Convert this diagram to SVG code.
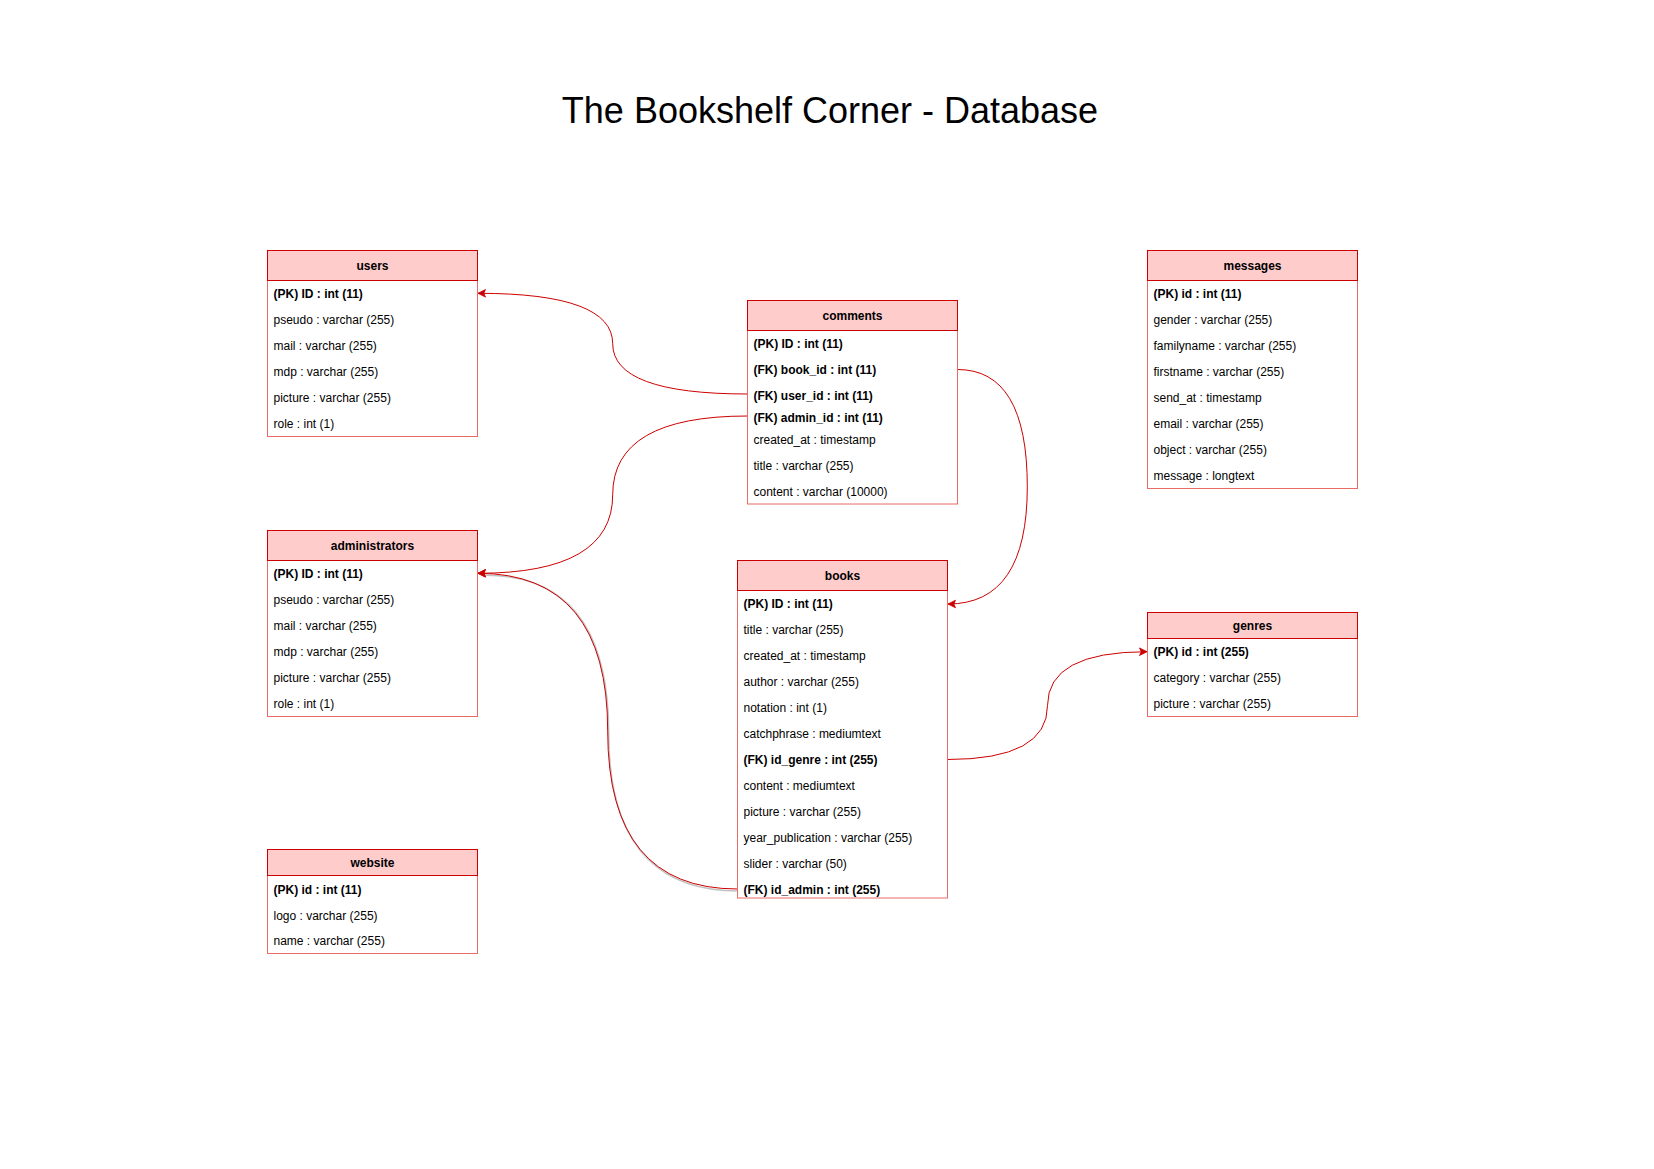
<svg xmlns="http://www.w3.org/2000/svg" width="1654" height="1169" viewBox="0 0 1654 1169">
<style>
.hd{fill:#FFCCCC;stroke:#CC0000;stroke-width:1}
.bd{fill:#FFFFFF;stroke:#EA6B66;stroke-width:1}
text{font-family:"Liberation Sans",Arial,sans-serif;fill:#000}
.ht{font-size:12px;font-weight:bold;text-anchor:middle}
.r{font-size:12px}
.b{font-size:12px;font-weight:bold}
.e{fill:none;stroke:#CC0000;stroke-width:1}
.sh{fill:none;stroke:#999999;stroke-width:1.5;opacity:0.6}
</style>
<defs>
<marker id="arr" viewBox="-8 -5 9 10" refX="0" refY="0" markerWidth="9" markerHeight="10" markerUnits="userSpaceOnUse" orient="auto">
<path d="M0,0 L-7.5,-3.8 L-5.8,0 L-7.5,3.8 Z" fill="#CC0000" stroke="#CC0000" stroke-width="0.8"/>
</marker>
</defs>
<rect width="1654" height="1169" fill="#FFFFFF"/>
<text x="830" y="123" style="font-size:36px;text-anchor:middle">The Bookshelf Corner - Database</text>

<g id="edges">
<path class="sh" transform="translate(1,2)" d="M737.5,889 Q607.7,889 607.7,731.2 Q607.7,573.3 484,573.3"/>
<path class="e" marker-end="url(#arr)" d="M747.5,394 Q612.7,394 612.7,343.7 Q612.7,293.3 478,293.3"/>
<path class="e" marker-end="url(#arr)" d="M747.5,416 Q612.7,416 612.7,494.7 Q612.7,573.3 478,573.3"/>
<path class="e" marker-end="url(#arr)" d="M957.5,369.5 Q1027.3,369.5 1027.3,486.8 Q1027.3,604 948,604"/>
<path class="e" marker-end="url(#arr)" d="M737.5,889 Q607.7,889 607.7,731.2 Q607.7,573.3 478,573.3"/>
<path class="e" marker-end="url(#arr)" d="M947.5,759.5 Q1047.5,759.5 1047.5,705.6 Q1047.5,651.7 1147,651.7"/>
</g>

<g id="users">
<rect class="bd" x="267.5" y="250.5" width="210" height="186"/>
<rect class="hd" x="267.5" y="250.5" width="210" height="30"/>
<text class="ht" x="372.5" y="270">users</text>
<text class="b" x="273.5" y="298">(PK) ID : int (11)</text>
<text class="r" x="273.5" y="324">pseudo : varchar (255)</text>
<text class="r" x="273.5" y="350">mail : varchar (255)</text>
<text class="r" x="273.5" y="376">mdp : varchar (255)</text>
<text class="r" x="273.5" y="402">picture : varchar (255)</text>
<text class="r" x="273.5" y="428">role : int (1)</text>
</g>

<g id="comments">
<rect class="bd" x="747.5" y="300.5" width="210" height="203.5"/>
<rect class="hd" x="747.5" y="300.5" width="210" height="30"/>
<text class="ht" x="852.5" y="320">comments</text>
<text class="b" x="753.5" y="348">(PK) ID : int (11)</text>
<text class="b" x="753.5" y="374">(FK) book_id : int (11)</text>
<text class="b" x="753.5" y="400">(FK) user_id : int (11)</text>
<text class="b" x="753.5" y="422">(FK) admin_id : int (11)</text>
<text class="r" x="753.5" y="443.5">created_at : timestamp</text>
<text class="r" x="753.5" y="469.5">title : varchar (255)</text>
<text class="r" x="753.5" y="495.5">content : varchar (10000)</text>
</g>

<g id="messages">
<rect class="bd" x="1147.5" y="250.5" width="210" height="238"/>
<rect class="hd" x="1147.5" y="250.5" width="210" height="30"/>
<text class="ht" x="1252.5" y="270">messages</text>
<text class="b" x="1153.5" y="298">(PK) id : int (11)</text>
<text class="r" x="1153.5" y="324">gender : varchar (255)</text>
<text class="r" x="1153.5" y="350">familyname : varchar (255)</text>
<text class="r" x="1153.5" y="376">firstname : varchar (255)</text>
<text class="r" x="1153.5" y="402">send_at : timestamp</text>
<text class="r" x="1153.5" y="428">email : varchar (255)</text>
<text class="r" x="1153.5" y="454">object : varchar (255)</text>
<text class="r" x="1153.5" y="480">message : longtext</text>
</g>

<g id="administrators">
<rect class="bd" x="267.5" y="530.5" width="210" height="186"/>
<rect class="hd" x="267.5" y="530.5" width="210" height="30"/>
<text class="ht" x="372.5" y="550">administrators</text>
<text class="b" x="273.5" y="578">(PK) ID : int (11)</text>
<text class="r" x="273.5" y="604">pseudo : varchar (255)</text>
<text class="r" x="273.5" y="630">mail : varchar (255)</text>
<text class="r" x="273.5" y="656">mdp : varchar (255)</text>
<text class="r" x="273.5" y="682">picture : varchar (255)</text>
<text class="r" x="273.5" y="708">role : int (1)</text>
</g>

<g id="books">
<rect class="bd" x="737.5" y="560.5" width="210" height="337.5"/>
<rect class="hd" x="737.5" y="560.5" width="210" height="30"/>
<text class="ht" x="842.5" y="580">books</text>
<text class="b" x="743.5" y="608">(PK) ID : int (11)</text>
<text class="r" x="743.5" y="634">title : varchar (255)</text>
<text class="r" x="743.5" y="660">created_at : timestamp</text>
<text class="r" x="743.5" y="686">author : varchar (255)</text>
<text class="r" x="743.5" y="712">notation : int (1)</text>
<text class="r" x="743.5" y="738">catchphrase : mediumtext</text>
<text class="b" x="743.5" y="764">(FK) id_genre : int (255)</text>
<text class="r" x="743.5" y="790">content : mediumtext</text>
<text class="r" x="743.5" y="816">picture : varchar (255)</text>
<text class="r" x="743.5" y="842">year_publication : varchar (255)</text>
<text class="r" x="743.5" y="868">slider : varchar (50)</text>
<text class="b" x="743.5" y="894">(FK) id_admin : int (255)</text>
</g>

<g id="genres">
<rect class="bd" x="1147.5" y="612.5" width="210" height="104"/>
<rect class="hd" x="1147.5" y="612.5" width="210" height="26"/>
<text class="ht" x="1252.5" y="630">genres</text>
<text class="b" x="1153.5" y="656">(PK) id : int (255)</text>
<text class="r" x="1153.5" y="682">category : varchar (255)</text>
<text class="r" x="1153.5" y="708">picture : varchar (255)</text>
</g>

<g id="website">
<rect class="bd" x="267.5" y="849.5" width="210" height="104"/>
<rect class="hd" x="267.5" y="849.5" width="210" height="26"/>
<text class="ht" x="372.5" y="867">website</text>
<text class="b" x="273.5" y="894">(PK) id : int (11)</text>
<text class="r" x="273.5" y="920">logo : varchar (255)</text>
<text class="r" x="273.5" y="945">name : varchar (255)</text>
</g>
</svg>
